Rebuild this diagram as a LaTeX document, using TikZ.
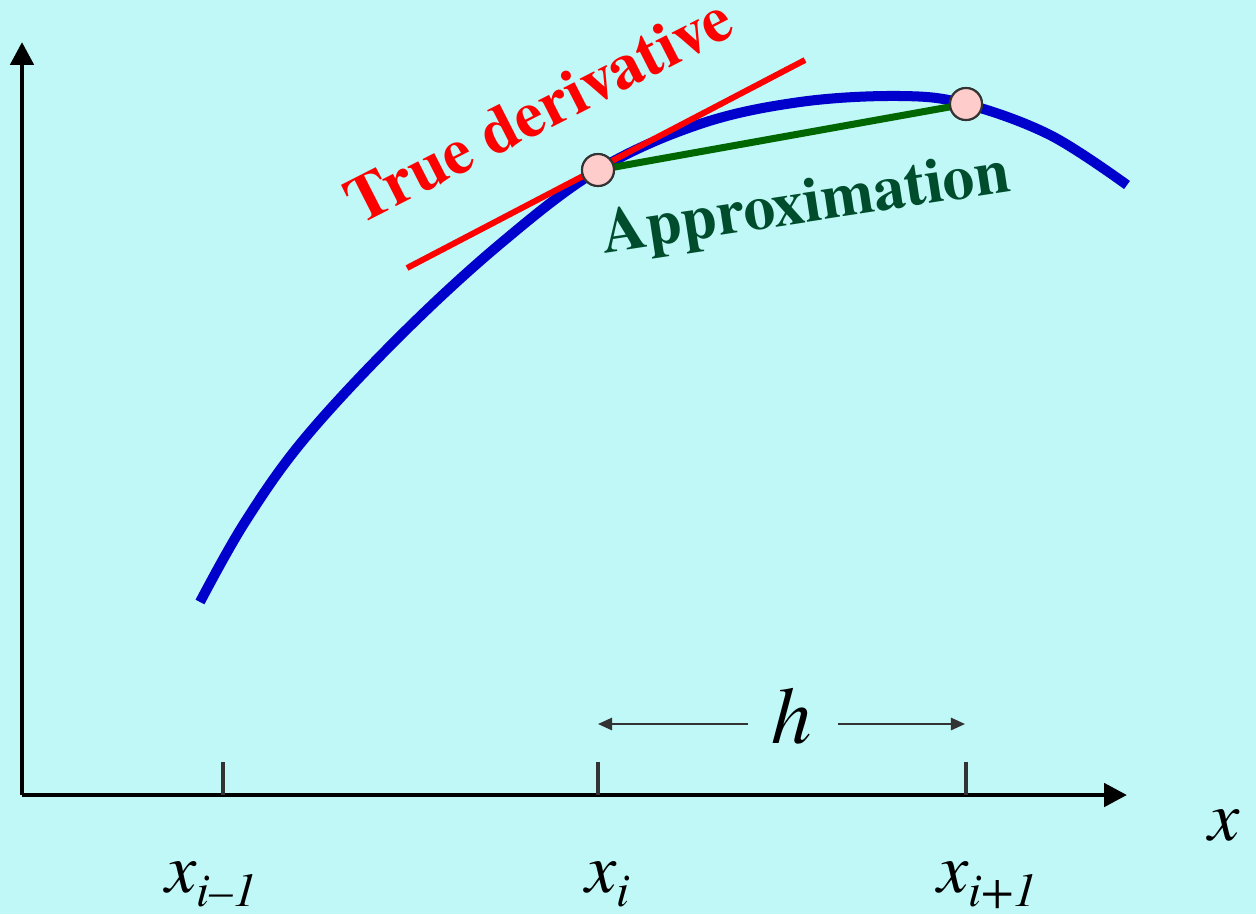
\documentclass[tikz,border=0pt]{standalone}
\usepackage{fontspec}
\setmainfont{texgyretermes}[Extension=.otf,UprightFont=*-regular,BoldFont=*-bold,ItalicFont=*-italic,BoldItalicFont=*-bolditalic]
\usepackage{xcolor}
\usetikzlibrary{arrows.meta,positioning}
\definecolor{bgcyan}{RGB}{192,248,248}
\definecolor{curveblue}{RGB}{0,0,204}
\definecolor{approxgreen}{RGB}{0,102,0}
\definecolor{labelgreen}{RGB}{0,77,46}
\definecolor{tickgray}{RGB}{51,51,51}
\definecolor{dotpink}{RGB}{255,204,204}
\newcommand{\xsub}[1]{\textit{x}\raisebox{-0.2em}{\fontsize{27}{27}\selectfont\textit{#1}}}

\begin{document}
\begin{tikzpicture}[x=0.02cm,y=-0.02cm,>={Triangle[length=13pt,width=13pt]},
  pt/.style={circle,draw=tickgray,fill=dotpink,line width=1.2pt,minimum size=0.64cm,inner sep=0pt},
  axislbl/.style={font=\fontsize{40}{40}\selectfont,inner sep=0pt},
  biglbl/.style={font=\bfseries\fontsize{37}{37}\selectfont,inner sep=0pt}]
  \fill[bgcyan] (0,0) rectangle (1256,914);
  \useasboundingbox (0,0) rectangle (1256,914);
  % axes
  \coordinate (o) at (22,795);
  \coordinate (ytop) at (22,42);
  \coordinate (xend) at (1127,795);
  \draw[line width=2.8pt,->] (o) -- (ytop);
  \draw[line width=2.8pt,->] (o) -- (xend);
  \foreach \x in {223,598,966} \draw[tickgray,line width=2.3pt] (\x,762) -- (\x,795);
  \node[axislbl,anchor=base west] (xim) at (165,892) {\xsub{i\textendash1}};
  \node[axislbl,anchor=base west] (xi) at (585,892) {\xsub{i}};
  \node[axislbl,anchor=base west] (xip) at (937,892) {\xsub{i+1}};
  \node[axislbl,anchor=base west] (xlbl) at (1208,840) {\textit{x}};
  % step h
  \node[axislbl,font=\fontsize{46}{46}\selectfont\itshape] (h) at (792,716) {h};
  \coordinate (hl) at (598,724);
  \coordinate (hr) at (965,724);
  \draw[tickgray,line width=1.1pt,-{Triangle[length=8pt,width=7pt]}] (748,724) -- (hl);
  \draw[tickgray,line width=1.1pt,-{Triangle[length=8pt,width=7pt]}] (838,724) -- (hr);
  % function
  \draw[curveblue,line width=5.7pt] plot[smooth,tension=0.6] coordinates
    {(200,602) (245,522) (305,438) (400,336) (500,244) (598,170) (700,124) (800,102) (900,96) (966,104) (1050,135) (1127,185)};
  % true derivative
  \coordinate (ta) at (407,268);
  \coordinate (tb) at (805,60);
  \draw[red,line width=3.4pt] (ta) -- (tb);
  \node[biglbl,red,rotate=27] (tlbl) at (538,110) {True derivative};
  % approximation
  \node[pt] (pi) at (598,170) {};
  \node[pt] (pj) at (966,104) {};
  \draw[approxgreen,line width=4pt] (pi.center) -- (pj.center);
  \node[pt] at (pi) {};
  \node[pt] at (pj) {};
  \node[biglbl,labelgreen,font=\bfseries\fontsize{36}{36}\selectfont,rotate=8.7] (albl) at (806,207) {Approximation};
\end{tikzpicture}
\end{document}
